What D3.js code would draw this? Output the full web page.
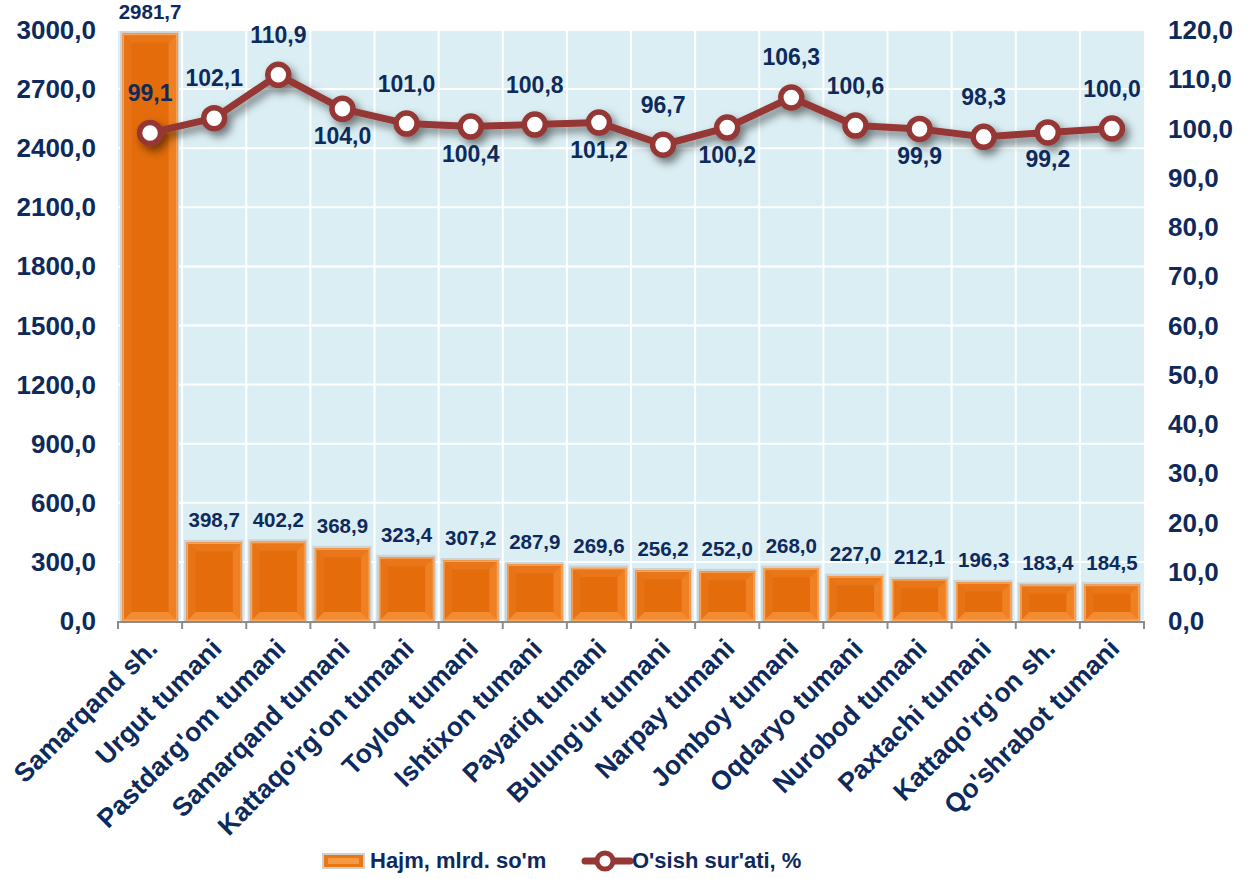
<!DOCTYPE html>
<html><head><meta charset="utf-8">
<script src="https://cdn.jsdelivr.net/npm/d3@7/dist/d3.min.js"></script>
<style>body{margin:0;background:#fff}svg{display:block}text{font-family:"Liberation Sans",Arial,sans-serif;font-weight:bold;fill:#0E2A5C}</style>
</head><body>
<script>
const categories = ["Samarqand sh.","Urgut tumani","Pastdarg'om tumani","Samarqand tumani","Kattaqo'rg'on tumani","Toyloq tumani","Ishtixon tumani","Payariq tumani","Bulung'ur tumani","Narpay tumani","Jomboy tumani","Oqdaryo tumani","Nurobod tumani","Paxtachi tumani","Kattaqo'rg'on sh.","Qo'shrabot tumani"];
const volume = [2981.7,398.7,402.2,368.9,323.4,307.2,287.9,269.6,256.2,252.0,268.0,227.0,212.1,196.3,183.4,184.5];
const growth = [99.1,102.1,110.9,104.0,101.0,100.4,100.8,101.2,96.7,100.2,106.3,100.6,99.9,98.3,99.2,100.0];
const growthLabelPos = ["a","a","a","b","a","b","a","b","a","b","a","a","b","a","b","a"];
const leftTicks = [0,300,600,900,1200,1500,1800,2100,2400,2700,3000];
const rightTicks = [0,10,20,30,40,50,60,70,80,90,100,110,120];
const legendNames = ["Hajm, mlrd. so'm","O'sish sur'ati, %"];

const W=1247,H=879, L=118,R=1144,T=30,B=621;
const svg=d3.select("body").append("svg").attr("width",W).attr("height",H);
const defs=svg.append("defs");
const f=defs.append("filter").attr("id","sh").attr("x","-20%").attr("y","-50%").attr("width","140%").attr("height","200%");
f.append("feDropShadow").attr("dx",4).attr("dy",5).attr("stdDeviation",4).attr("flood-color","#000").attr("flood-opacity",0.5);

const fmt=v=>v.toFixed(1).replace(".",",");
const x=d3.scaleBand().domain(categories).range([L,R]).paddingInner(0.14).paddingOuter(0.07);
const y=d3.scaleLinear().domain([0,3000]).range([B,T]);
const y2=d3.scaleLinear().domain([0,120]).range([B,T]);

// plot background
svg.append("rect").attr("x",L).attr("y",T).attr("width",R-L).attr("height",B-T).attr("fill","#DAEEF3");
const g=svg.append("g");
g.selectAll("line.h").data(leftTicks).join("line").attr("x1",L).attr("x2",R).attr("y1",d=>y(d)).attr("y2",d=>y(d)).attr("stroke","#fff").attr("stroke-width",2);
const bounds=d3.range(categories.length+1).map(i=>L+i*((R-L)/categories.length));
g.selectAll("line.v").data(bounds.slice(1,-1)).join("line").attr("x1",d=>d).attr("x2",d=>d).attr("y1",T).attr("y2",B).attr("stroke","#fff").attr("stroke-width",2);

// bars
const bars=svg.append("g");
categories.forEach((c,i)=>{
  const x0=x(c), x1=x0+x.bandwidth(), y0=y(volume[i]), y1=y(0);
  const b=Math.min(9,(y1-y0)/2);
  const gg=bars.append("g");
  gg.append("rect").attr("x",x0-2.5).attr("y",y0-2.5).attr("width",x1-x0+4).attr("height",y1-y0+2.5).attr("fill","#CDD3D6");
  gg.append("rect").attr("x",x0).attr("y",y0).attr("width",x1-x0).attr("height",y1-y0).attr("fill","#E46C0A");
  const poly=(pts,fill)=>gg.append("polygon").attr("points",pts.map(p=>p.join(",")).join(" ")).attr("fill",fill);
  poly([[x0,y0],[x1,y0],[x1-b,y0+b],[x0+b,y0+b]],"#E97618");
  poly([[x0,y0],[x0+b,y0+b],[x0+b,y1-b],[x0,y1]],"#E77316");
  poly([[x1,y0],[x1-b,y0+b],[x1-b,y1-b],[x1,y1]],"#EE8124");
  poly([[x0,y1],[x0+b,y1-b],[x1-b,y1-b],[x1,y1]],"#F28C32");
  gg.append("rect").attr("x",x0+0.75).attr("y",y0+0.75).attr("width",x1-x0-1.5).attr("height",y1-y0-1.5).attr("fill","none").attr("stroke","#F9A65A").attr("stroke-width",1.5);
  svg.append("text").attr("x",x0+x.bandwidth()/2).attr("y",y0-15).attr("text-anchor","middle").attr("font-size",20.5).text(fmt(volume[i]));
});

// axis
svg.append("line").attr("x1",L).attr("x2",R).attr("y1",B+1).attr("y2",B+1).attr("stroke","#8C8C8C").attr("stroke-width",2);
svg.selectAll("line.t").data(bounds).join("line").attr("x1",d=>d).attr("x2",d=>d).attr("y1",B).attr("y2",B+8).attr("stroke","#8C8C8C").attr("stroke-width",2);
svg.selectAll("text.yl").data(leftTicks).join("text").attr("x",96).attr("y",d=>y(d)+9).attr("text-anchor","end").attr("font-size",26).text(d=>fmt(d));
svg.selectAll("text.yr").data(rightTicks).join("text").attr("x",1168).attr("y",d=>y2(d)+9).attr("text-anchor","start").attr("font-size",26).text(d=>fmt(d));
svg.selectAll("text.xl").data(categories).join("text")
  .attr("transform",d=>`translate(${x(d)+x.bandwidth()/2+9},${B+29}) rotate(-45)`)
  .attr("text-anchor","end").attr("font-size",26.5).text(d=>d);

// line
const cx=i=>x(categories[i])+x.bandwidth()/2;
const line=d3.line().x((d,i)=>cx(i)).y(d=>y2(d));
const lg=svg.append("g").attr("filter","url(#sh)");
lg.append("path").attr("d",line(growth)).attr("fill","none").attr("stroke","#953735").attr("stroke-width",7).attr("stroke-linejoin","round");
lg.selectAll("circle").data(growth).join("circle").attr("cx",(d,i)=>cx(i)).attr("cy",d=>y2(d)).attr("r",10.5).attr("fill","#fff").attr("stroke","#953735").attr("stroke-width",5.5);
svg.selectAll("text.gl").data(growth).join("text").attr("x",(d,i)=>cx(i)).attr("y",(d,i)=>growthLabelPos[i]==="a"?y2(d)-32:y2(d)+35).attr("text-anchor","middle").attr("font-size",23).text(d=>fmt(d));

// legend
const leg=svg.append("g");
leg.append("rect").attr("x",322).attr("y",853).attr("width",43).attr("height",16).attr("fill","#D0D0D0");
leg.append("rect").attr("x",324).attr("y",855).attr("width",39).attr("height",12).attr("fill","#E8780F");
leg.append("rect").attr("x",328).attr("y",858).attr("width",31).attr("height",6).attr("fill","#F49A45");
leg.append("text").attr("x",370).attr("y",868).attr("font-size",22).text(legendNames[0]);
leg.append("line").attr("x1",585).attr("x2",630).attr("y1",861).attr("y2",861).attr("stroke","#953735").attr("stroke-width",7).attr("stroke-linecap","round");
leg.append("circle").attr("cx",605).attr("cy",861).attr("r",8).attr("fill","#fff").attr("stroke","#953735").attr("stroke-width",5);
leg.append("text").attr("x",632).attr("y",868).attr("font-size",22).text(legendNames[1]);
</script>
</body></html>
